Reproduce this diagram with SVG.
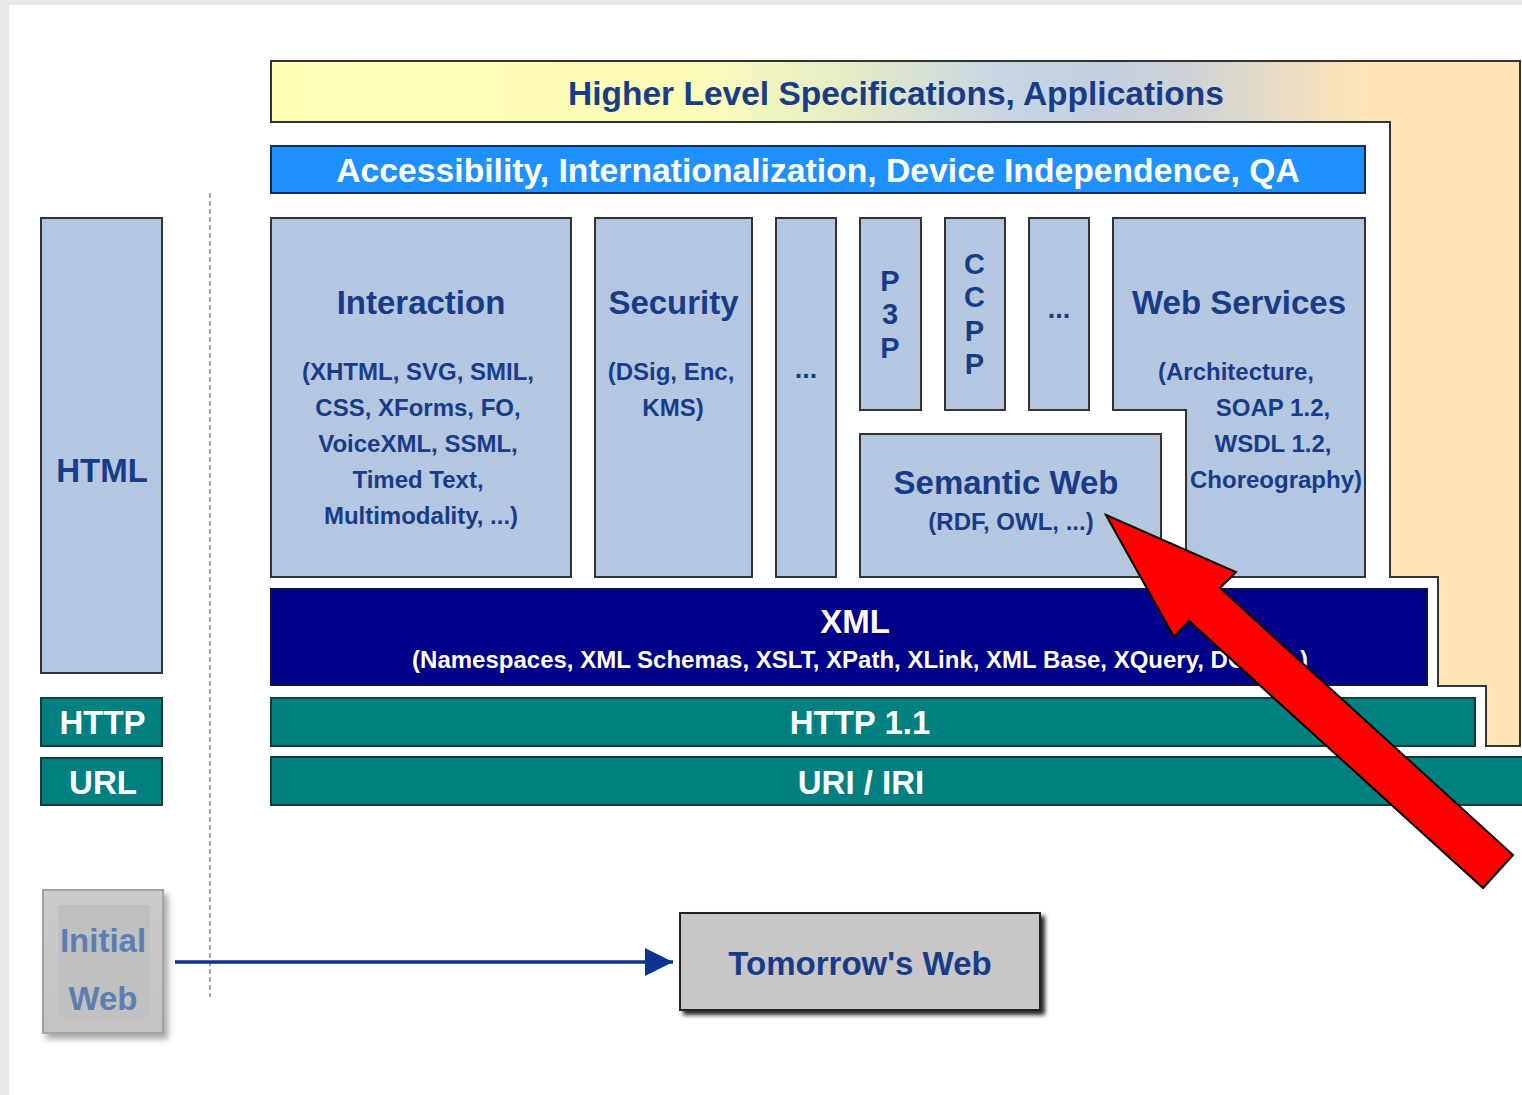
<svg xmlns="http://www.w3.org/2000/svg" width="1522" height="1095" viewBox="0 0 1522 1095">
<defs>
<linearGradient id="hdr" gradientUnits="userSpaceOnUse" x1="271" y1="0" x2="1520" y2="0">
<stop offset="0" stop-color="#ffffb6"/>
<stop offset="0.34" stop-color="#fdfdb8"/>
<stop offset="0.464" stop-color="#e4ebc6"/>
<stop offset="0.584" stop-color="#c8d6e4"/>
<stop offset="0.664" stop-color="#c4d0e0"/>
<stop offset="0.728" stop-color="#cdd2d8"/>
<stop offset="0.808" stop-color="#e8dcc4"/>
<stop offset="0.88" stop-color="#ffe4b5"/>
<stop offset="1" stop-color="#ffe6b5"/>
</linearGradient>
<linearGradient id="grayg" x1="0" y1="0" x2="0" y2="1">
<stop offset="0" stop-color="#cbcbcb"/>
<stop offset="1" stop-color="#c2c2c2"/>
</linearGradient>
<filter id="sh1" x="-20%" y="-20%" width="150%" height="150%">
<feDropShadow dx="4" dy="5" stdDeviation="3" flood-color="#000" flood-opacity="0.35"/>
</filter>
<filter id="sh2" x="-20%" y="-20%" width="150%" height="150%">
<feDropShadow dx="4" dy="4" stdDeviation="2" flood-color="#000" flood-opacity="0.85"/>
</filter>
<marker id="ah" markerUnits="userSpaceOnUse" markerWidth="30" markerHeight="28" refX="28" refY="14" orient="auto">
<path d="M0,0 L28,14 L0,28 Z" fill="#0c3392"/>
</marker>
<style>
.t{font-family:"Liberation Sans",Arial,sans-serif;font-weight:bold;text-anchor:middle}
.big{font-size:33px}
.let{font-size:29px}
.sub{font-size:24px}
.nv{fill:#183c88}
.wh{fill:#ffffff}
.box{fill:#b5c7e0;stroke:#333;stroke-width:2}
.teal{fill:#008080;stroke:#1a3a3a;stroke-width:2}
</style>
</defs>
<rect x="0" y="0" width="1522" height="1095" fill="#e8e8e8"/>
<rect x="9" y="5" width="1513" height="1090" fill="#ffffff"/>

<g id="higher-level">
<path d="M271,61 L1520,61 L1520,746 L1486,746 L1486,686 L1438,686 L1438,577 L1390,577 L1390,122 L271,122 Z" fill="url(#hdr)" stroke="#333" stroke-width="2"/>
<text class="t nv" style="font-size:33.5px" x="896" y="105">Higher Level Specifications, Applications</text>
</g>

<g id="accessibility">
<rect x="271" y="146" width="1094" height="47" fill="#1e90ff" stroke="#1a2a50" stroke-width="2"/>
<text class="t wh" style="font-size:33.7px" x="818" y="182">Accessibility, Internationalization, Device Independence, QA</text>
</g>

<g id="interaction">
<rect class="box" x="271" y="218" width="300" height="359"/>
<text class="t big nv" x="421" y="314">Interaction</text>
<text class="t sub nv" x="418" y="380">(XHTML, SVG, SMIL,</text>
<text class="t sub nv" x="418" y="416">CSS, XForms, FO,</text>
<text class="t sub nv" x="418" y="452">VoiceXML, SSML,</text>
<text class="t sub nv" x="418" y="488">Timed Text,</text>
<text class="t sub nv" x="421" y="524">Multimodality, ...)</text>
</g>

<g id="security">
<rect class="box" x="595" y="218" width="157" height="359"/>
<text class="t big nv" x="673.5" y="314">Security</text>
<text class="t sub nv" x="671" y="380">(DSig, Enc,</text>
<text class="t sub nv" x="673" y="416">KMS)</text>
</g>

<g id="more1">
<rect class="box" x="776" y="218" width="60" height="359"/>
<text class="t nv" style="font-size:27px" x="806" y="378">...</text>
</g>

<g id="p3p">
<rect class="box" x="860" y="218" width="61" height="192"/>
<text class="t let nv" x="890" y="291">P</text>
<text class="t let nv" x="890" y="324">3</text>
<text class="t let nv" x="890" y="358">P</text>
</g>

<g id="ccpp">
<rect class="box" x="945" y="218" width="60" height="192"/>
<text class="t let nv" x="974.5" y="274">C</text>
<text class="t let nv" x="974.5" y="307">C</text>
<text class="t let nv" x="974.5" y="341">P</text>
<text class="t let nv" x="974.5" y="374">P</text>
</g>

<g id="more2">
<rect class="box" x="1029" y="218" width="60" height="192"/>
<text class="t nv" style="font-size:27px" x="1059" y="318">...</text>
</g>

<g id="web-services">
<path class="box" d="M1113,218 L1365,218 L1365,577 L1186,577 L1186,410 L1113,410 Z"/>
<text class="t big nv" x="1239" y="314">Web Services</text>
<text class="t sub nv" x="1236" y="380">(Architecture,</text>
<text class="t sub nv" x="1273" y="416">SOAP 1.2,</text>
<text class="t sub nv" x="1273" y="452">WSDL 1.2,</text>
<text class="t sub nv" x="1276" y="488">Choreography)</text>
</g>

<g id="semantic-web">
<rect class="box" x="860" y="434" width="301" height="143"/>
<text class="t big nv" x="1006" y="494">Semantic Web</text>
<text class="t sub nv" x="1011" y="530">(RDF, OWL, ...)</text>
</g>

<g id="xml">
<rect x="271" y="589" width="1156" height="96" fill="#000088" stroke="#101040" stroke-width="2"/>
<text class="t big wh" x="855" y="633">XML</text>
<text class="t sub wh" x="860" y="668">(Namespaces, XML Schemas, XSLT, XPath, XLink, XML Base, XQuery, DOM, ...)</text>
</g>

<g id="http11">
<rect class="teal" x="271" y="698" width="1204" height="48"/>
<text class="t big wh" x="860" y="734">HTTP 1.1</text>
</g>

<g id="uri-iri">
<rect class="teal" x="271" y="757" width="1260" height="48"/>
<text class="t big wh" x="861" y="794">URI / IRI</text>
</g>

<g id="html">
<rect class="box" x="41" y="218" width="121" height="455"/>
<text class="t big nv" x="102" y="482">HTML</text>
</g>

<g id="http">
<rect class="teal" x="41" y="698" width="121" height="48"/>
<text class="t big wh" x="102.5" y="734">HTTP</text>
</g>

<g id="url">
<rect class="teal" x="41" y="758" width="121" height="47"/>
<text class="t big wh" x="103" y="794">URL</text>
</g>

<g id="divider">
<line x1="210" y1="193" x2="210" y2="997" stroke="#888" stroke-width="1.5" stroke-dasharray="5,3"/>
</g>

<g id="initial-web">
<rect x="43" y="890" width="120" height="143" fill="url(#grayg)" stroke="#a4a4a4" stroke-width="2" filter="url(#sh1)"/>
<rect x="58" y="905" width="92" height="113" fill="#c0c0c0"/>
<text class="t big" x="103" y="952" fill="#5a7fb2">Initial</text>
<text class="t big" x="103" y="1010" fill="#5a7fb2">Web</text>
</g>

<g id="tomorrows-web">
<rect x="680" y="913" width="360" height="97" fill="#c8c6c9" stroke="#222" stroke-width="2" filter="url(#sh2)"/>
<text class="t big nv" x="860" y="975">Tomorrow's Web</text>
</g>

<g id="connectors">
<line x1="175" y1="962" x2="673" y2="962" stroke="#0c3392" stroke-width="3.5" marker-end="url(#ah)"/>
</g>

<g id="pointer-arrow">
<polygon points="1106,515 1236,572 1220,588 1513,855 1483,888 1189,621 1174,637" fill="#ff0000" stroke="#000" stroke-width="2" stroke-linejoin="miter"/>
</g>
</svg>
